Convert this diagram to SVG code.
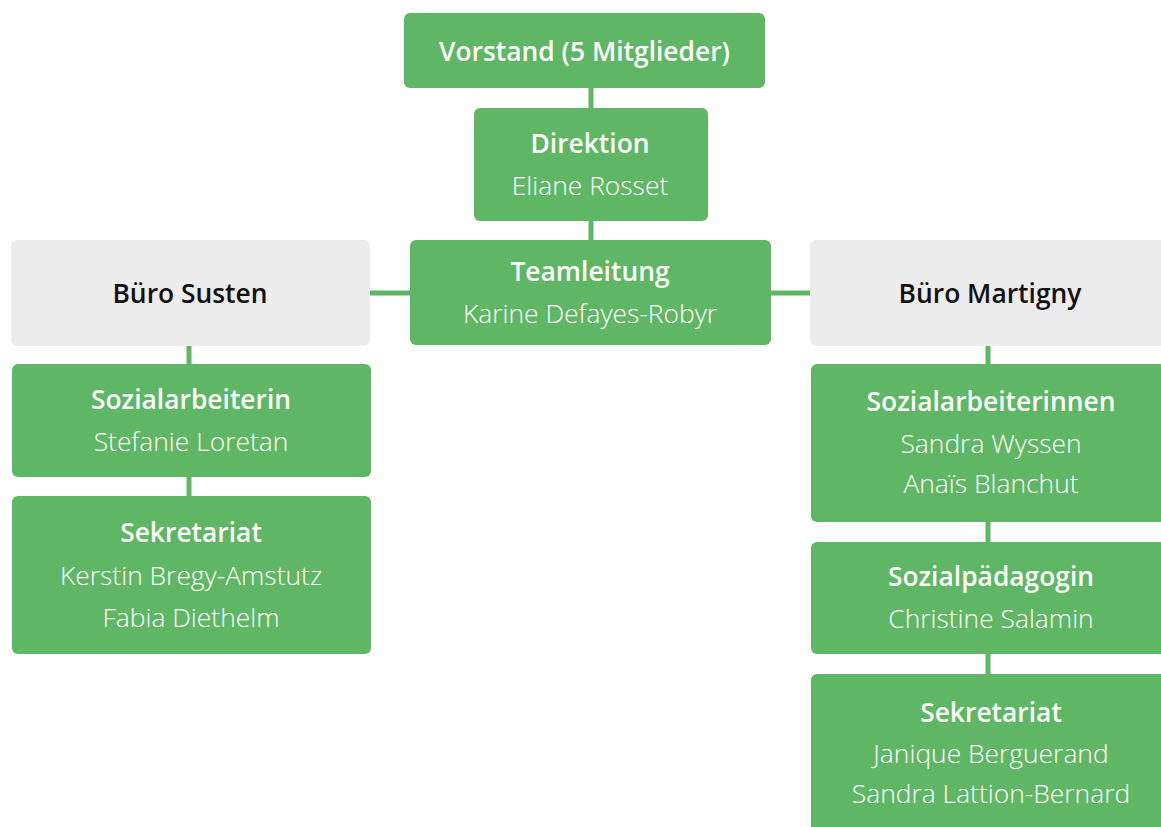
<svg xmlns="http://www.w3.org/2000/svg" width="1161" height="827" viewBox="0 0 1161 827">
<style>
.g{fill:#5fb665}
.b{fill:#ececec}
.c{stroke:#5fb665;stroke-width:5;fill:none}
text{font-family:"Open Sans","Noto Sans","Liberation Sans",sans-serif;font-size:26.4px;text-anchor:middle}
.h{font-weight:600;fill:#ffffff}
.n{font-weight:300;fill:#ffffff}
.k{font-weight:600;fill:#111111}
</style>
<rect width="1161" height="827" fill="#ffffff"/>
<g id="connectors">
<line class="c" x1="591" y1="86" x2="591" y2="110"/>
<line class="c" x1="591" y1="219" x2="591" y2="242"/>
<line class="c" x1="368" y1="293" x2="412" y2="293"/>
<line class="c" x1="769" y1="293" x2="812" y2="293"/>
<line class="c" x1="189" y1="344" x2="189" y2="366"/>
<line class="c" x1="189" y1="475" x2="189" y2="498"/>
<line class="c" x1="988" y1="344" x2="988" y2="366"/>
<line class="c" x1="988" y1="520" x2="988" y2="544"/>
<line class="c" x1="988" y1="652" x2="988" y2="676"/>
</g>
<g id="vorstand">
<rect class="g" x="404" y="13" width="361" height="75" rx="6"/>
<text class="h" x="584.5" y="61">Vorstand (5 Mitglieder)</text>
</g>
<g id="direktion">
<rect class="g" x="474" y="108" width="234" height="113" rx="6"/>
<text class="h" x="590" y="153">Direktion</text>
<text class="n" x="590" y="195">Eliane Rosset</text>
</g>
<g id="teamleitung">
<rect class="g" x="410" y="240" width="361" height="105" rx="6"/>
<text class="h" x="590" y="281">Teamleitung</text>
<text class="n" x="590" y="323">Karine Defayes-Robyr</text>
</g>
<g id="buero-susten">
<rect class="b" x="11" y="240" width="359" height="106" rx="6"/>
<text class="k" x="190" y="303">Büro Susten</text>
</g>
<g id="sozialarbeiterin">
<rect class="g" x="12" y="364" width="359" height="113" rx="6"/>
<text class="h" x="191" y="409">Sozialarbeiterin</text>
<text class="n" x="191" y="451">Stefanie Loretan</text>
</g>
<g id="sekretariat-susten">
<rect class="g" x="12" y="496" width="359" height="158" rx="6"/>
<text class="h" x="191" y="542">Sekretariat</text>
<text class="n" x="191" y="585">Kerstin Bregy-Amstutz</text>
<text class="n" x="191" y="627">Fabia Diethelm</text>
</g>
<g id="buero-martigny">
<rect class="b" x="810" y="240" width="360" height="106" rx="6"/>
<text class="k" x="990" y="303">Büro Martigny</text>
</g>
<g id="sozialarbeiterinnen">
<rect class="g" x="811" y="364" width="360" height="158" rx="6"/>
<text class="h" x="991" y="411">Sozialarbeiterinnen</text>
<text class="n" x="991" y="453">Sandra Wyssen</text>
<text class="n" x="991" y="493">Anaïs Blanchut</text>
</g>
<g id="sozialpaedagogin">
<rect class="g" x="811" y="542" width="360" height="112" rx="6"/>
<text class="h" x="991" y="586">Sozialpädagogin</text>
<text class="n" x="991" y="628">Christine Salamin</text>
</g>
<g id="sekretariat-martigny">
<rect class="g" x="811" y="674" width="360" height="170" rx="6"/>
<text class="h" x="991" y="722">Sekretariat</text>
<text class="n" x="991" y="763">Janique Berguerand</text>
<text class="n" x="991" y="803">Sandra Lattion-Bernard</text>
</g>
</svg>
